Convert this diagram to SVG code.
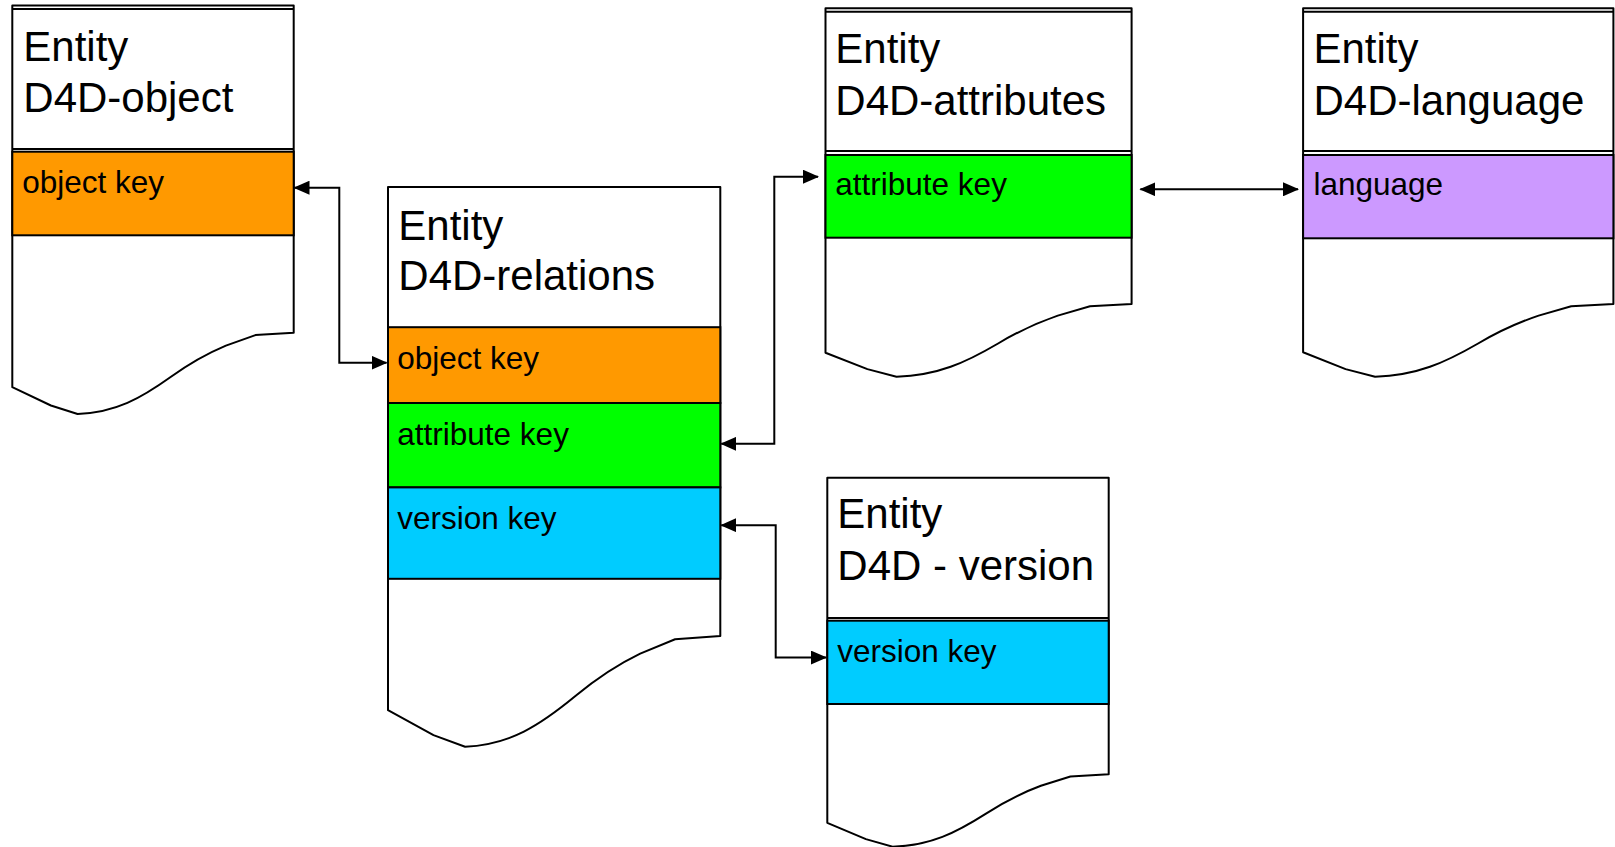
<svg xmlns="http://www.w3.org/2000/svg" width="1615" height="847" viewBox="0 0 1615 847">
<style>
  .shape { fill: #ffffff; stroke: #000000; stroke-width: 2; stroke-linejoin: round; }
  .band { stroke: #000000; stroke-width: 2; }
  .sep { stroke: #000000; stroke-width: 2; }
  .orange { fill: #FF9900; }
  .green { fill: #00FF00; }
  .blue { fill: #00CCFF; }
  .purple { fill: #CC99FF; }
  .title { font-family: "Liberation Sans", Arial, sans-serif; font-size: 42px; fill: #000000; }
  .field { font-family: "Liberation Sans", Arial, sans-serif; font-size: 31.5px; fill: #000000; }
  .conn { fill: none; stroke: #000000; stroke-width: 2; }
</style>
<defs>
  <marker id="arrow" markerUnits="userSpaceOnUse" markerWidth="16" markerHeight="14" refX="15" refY="7" orient="auto-start-reverse" viewBox="0 0 16 14">
    <path d="M0,0 L16,7 L0,14 Z" fill="#000000"/>
  </marker>
</defs>
<rect x="0" y="0" width="1615" height="847" fill="#ffffff"/>

<g id="node-object">
  <path class="shape" d="M12.3,5.5 H293.7 V332.7 L255.4,335.1 L225.9,345.6 C209,352.7 192.1,361.5 171,376.8 C141.2,398.1 115.6,412.8 77.6,414 L50.9,405.5 L12.3,387.2 Z"/>
  <line class="sep" x1="12.3" y1="9" x2="293.7" y2="9"/>
  <rect class="band orange" x="12.3" y="151.7" width="281.4" height="83.6"/>
  <line class="sep" x1="12.3" y1="149" x2="293.7" y2="149"/>
  <text class="title" x="23.3" y="61">Entity</text>
  <text class="title" x="23.3" y="112.3">D4D-object</text>
  <text class="field" x="22.3" y="192.7">object key</text>
</g>

<g id="node-relations">
  <path class="shape" d="M388,187 H720.3 V636 L675.1,639.3 L640.2,653.6 C620.3,663.2 600.3,675.2 575.4,696.1 C540.2,725.1 510,745 465.1,746.7 L433.5,735.1 L388,710.2 Z"/>
  <rect class="band orange" x="388" y="327.2" width="332.3" height="75.8"/>
  <rect class="band green" x="388" y="403" width="332.3" height="84.4"/>
  <rect class="band blue" x="388" y="487.4" width="332.3" height="91.4"/>
  <text class="title" x="398.3" y="240.3">Entity</text>
  <text class="title" x="398.3" y="290.2">D4D-relations</text>
  <text class="field" x="397.3" y="369">object key</text>
  <text class="field" x="397.3" y="444.5">attribute key</text>
  <text class="field" x="397.3" y="528.9">version key</text>
</g>

<g id="node-attributes">
  <path class="shape" d="M825.5,8.3 H1131.6 V304 L1090,306.2 L1057.8,315.6 C1039.5,321.9 1021.1,329.7 998.1,343.5 C965.7,362.5 937.8,375.6 896.5,376.7 L867.4,369.1 L825.5,352.7 Z"/>
  <line class="sep" x1="825.5" y1="11.7" x2="1131.6" y2="11.7"/>
  <rect class="band green" x="825.5" y="155" width="306.1" height="82.7"/>
  <line class="sep" x1="825.5" y1="151" x2="1131.6" y2="151"/>
  <text class="title" x="835.3" y="63.3">Entity</text>
  <text class="title" x="835.3" y="115">D4D-attributes</text>
  <text class="field" x="835.3" y="195">attribute key</text>
</g>

<g id="node-language">
  <path class="shape" d="M1303.1,8.3 H1613.4 V304 L1571.2,306.2 L1538.6,315.6 C1520,321.9 1501.4,329.7 1478.1,343.5 C1445.2,362.5 1417,375.6 1375.1,376.7 L1345.6,369.1 L1303.1,352.2 Z"/>
  <line class="sep" x1="1303.1" y1="11.7" x2="1613.4" y2="11.7"/>
  <rect class="band purple" x="1303.1" y="155" width="310.3" height="83.3"/>
  <line class="sep" x1="1303.1" y1="151" x2="1613.4" y2="151"/>
  <text class="title" x="1313.5" y="63.3">Entity</text>
  <text class="title" x="1313.5" y="115">D4D-language</text>
  <text class="field" x="1313.5" y="195">language</text>
</g>

<g id="node-version">
  <path class="shape" d="M827.3,477.7 H1108.7 V774.3 L1070.4,776.5 L1040.9,785.8 C1024,792.1 1007.1,799.9 986,813.6 C956.2,832.6 930.6,845.6 892.6,846.7 L865.9,839.1 L827.3,822.8 Z"/>
  <rect class="band blue" x="827.3" y="620.7" width="281.4" height="83.3"/>
  <line class="sep" x1="827.3" y1="618" x2="1108.7" y2="618"/>
  <text class="title" x="837.3" y="528.3">Entity</text>
  <text class="title" x="837.3" y="580">D4D - version</text>
  <text class="field" x="837.3" y="661.7">version key</text>
</g>

<g id="connectors">
  <path class="conn" d="M294.5,187.7 H339.3 V362.7 H386.5" marker-start="url(#arrow)" marker-end="url(#arrow)"/>
  <path class="conn" d="M721.3,443.8 H774.3 V176.7 H818" marker-start="url(#arrow)" marker-end="url(#arrow)"/>
  <path class="conn" d="M721.3,525.2 H775.7 V657.6 H826" marker-start="url(#arrow)" marker-end="url(#arrow)"/>
  <path class="conn" d="M1140.4,189.3 H1298" marker-start="url(#arrow)" marker-end="url(#arrow)"/>
</g>
</svg>
